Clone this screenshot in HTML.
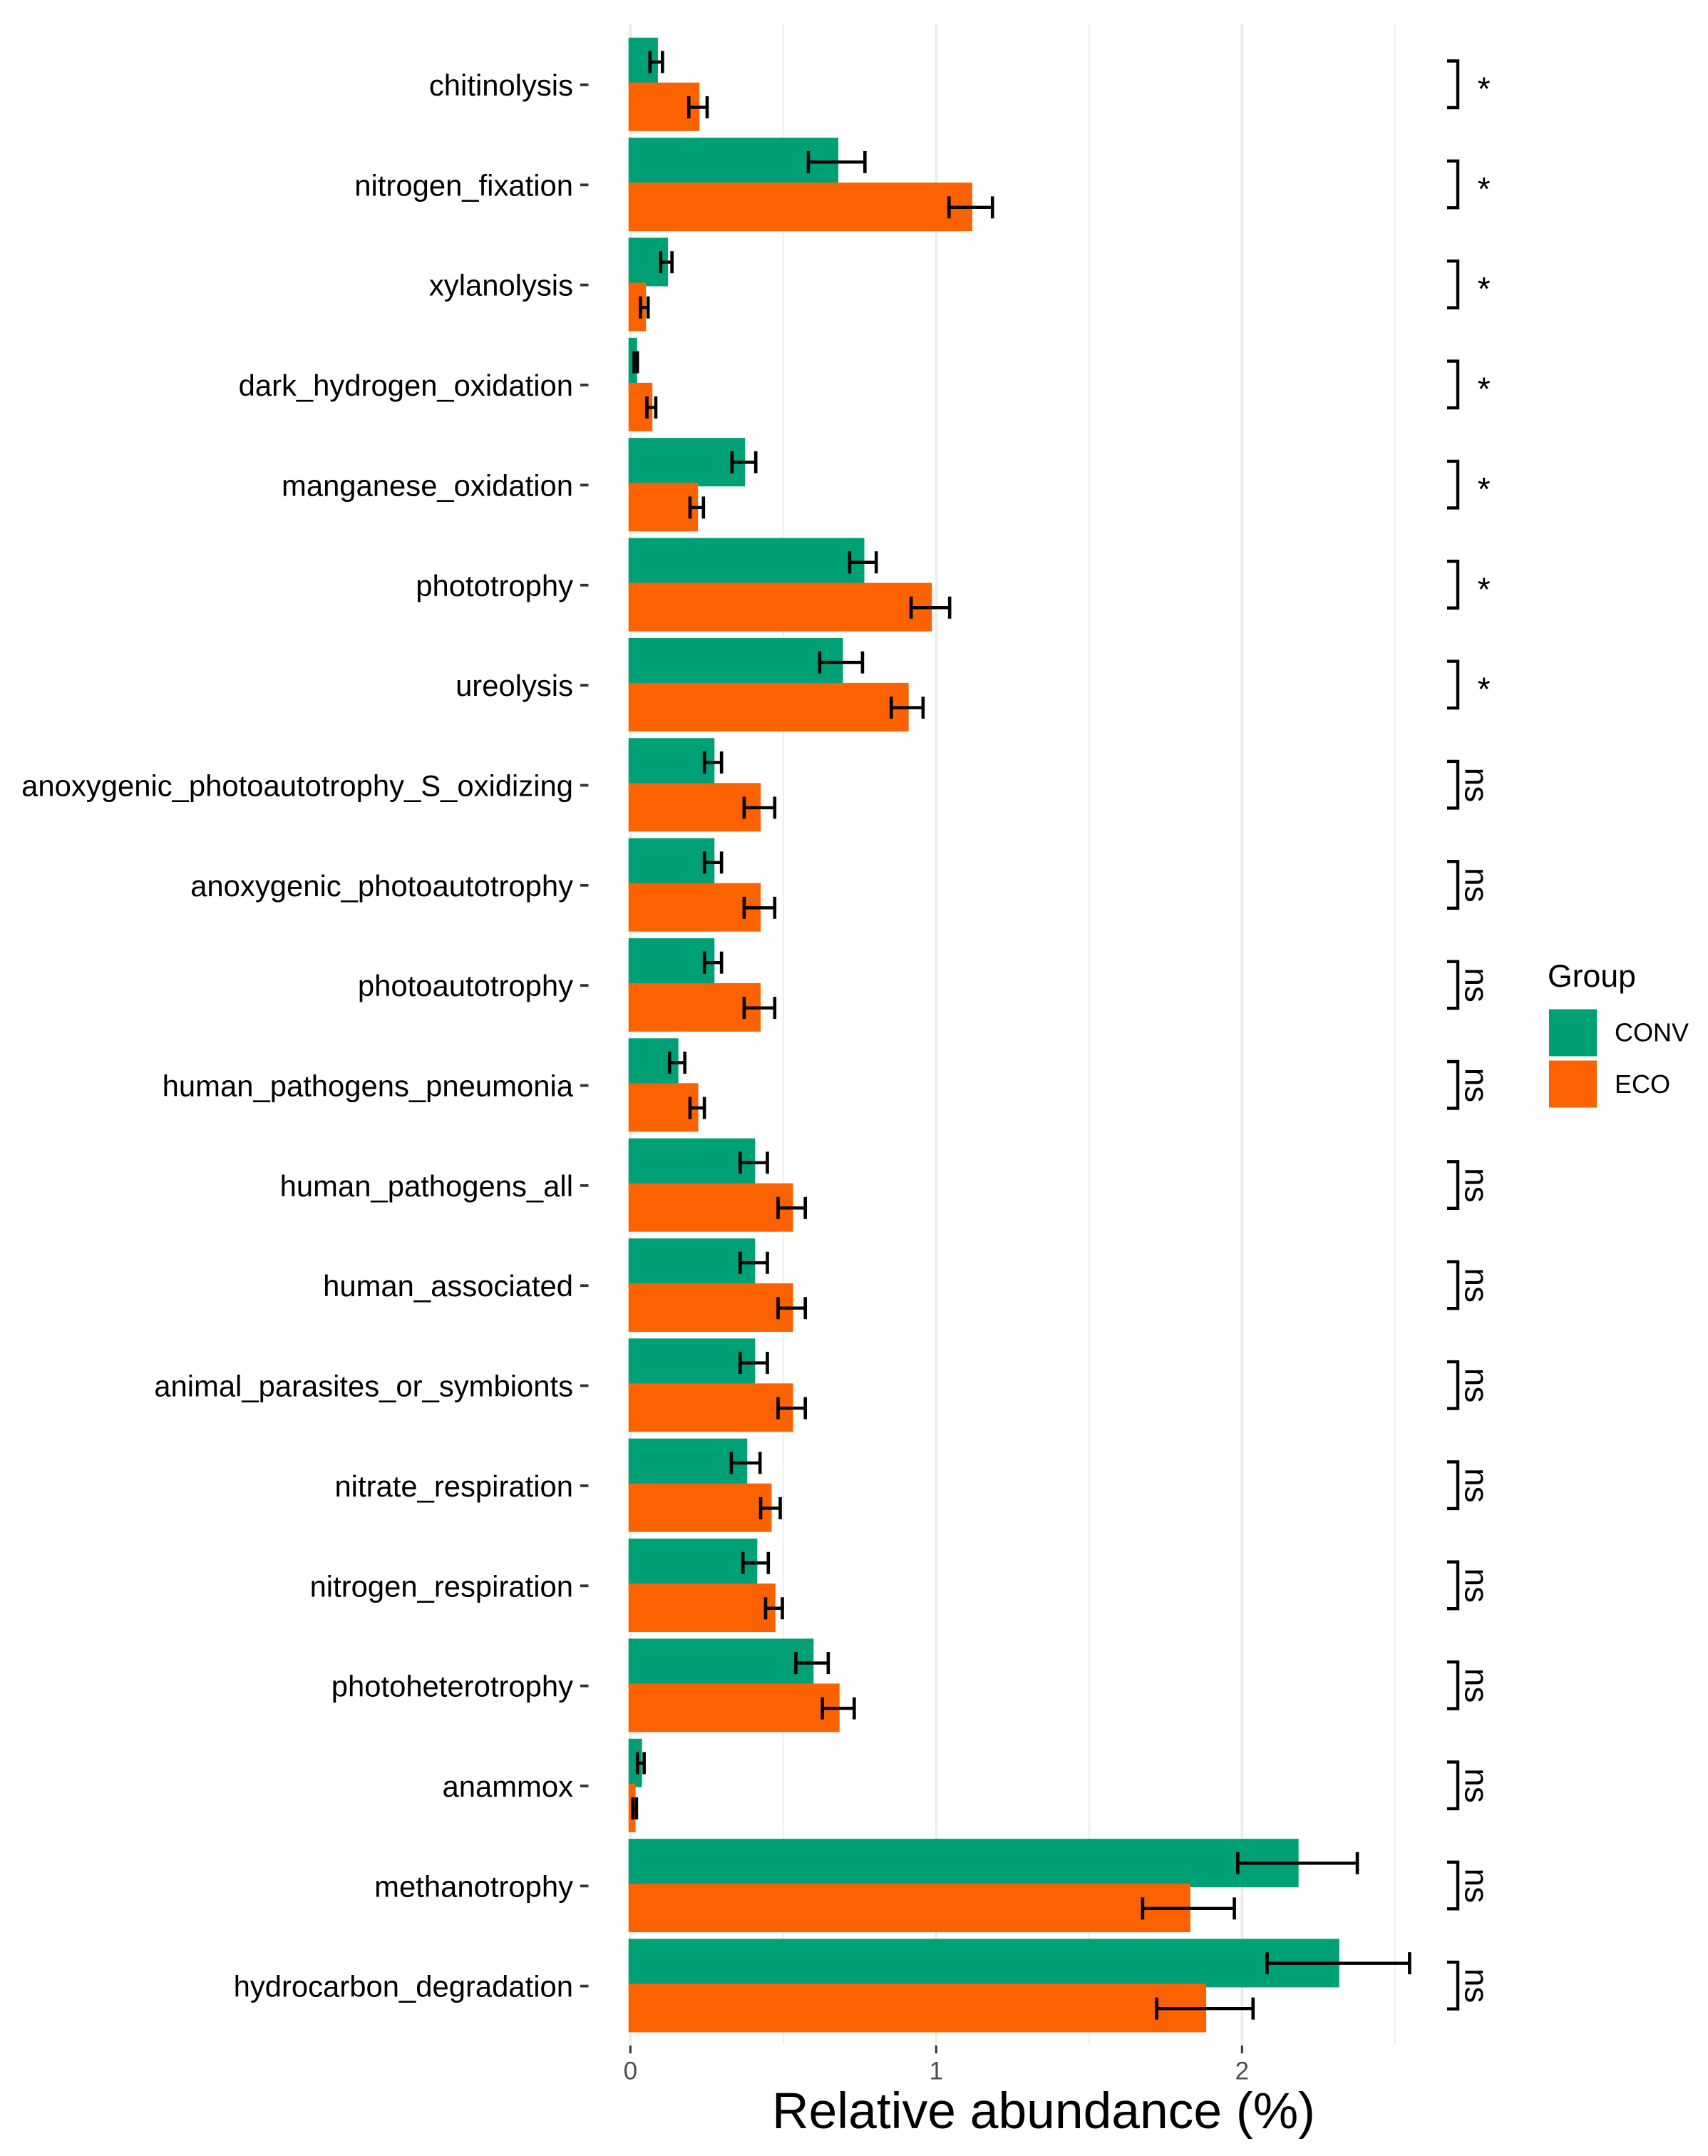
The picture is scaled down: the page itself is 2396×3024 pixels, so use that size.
<!DOCTYPE html>
<html lang="en">
<head>
<meta charset="utf-8">
<title>Relative abundance by function</title>
<style>
html,body{margin:0;padding:0;background:#fff;width:2396px;height:3024px;overflow:hidden}
svg{display:block}
text{font-family:"Liberation Sans",Arial,sans-serif}
</style>
</head>
<body>
<svg id="chart" xmlns="http://www.w3.org/2000/svg" width="2396" height="3024" viewBox="0 0 2396 3024">
  <rect x="0" y="0" width="2396" height="3024" fill="#ffffff"/>
  <g id="grid"></g>
  <g id="bars"></g>
  <g id="errors"></g>
  <g id="yaxis"></g>
  <g id="xaxis"></g>
  <g id="signif"></g>
  <text x="1083" y="2985" font-size="71.4" fill="#000000">Relative abundance (%)</text>
  <g>
    <text x="2171" y="1384" font-size="44.6" fill="#000000">Group</text>
    <rect x="2173" y="1415.5" width="67" height="66" fill="#00A077"/>
    <rect x="2173" y="1487.5" width="67" height="66" fill="#FC6200"/>
    <text x="2265" y="1460.5" font-size="36" fill="#000000">CONV</text>
    <text x="2265" y="1533" font-size="36" fill="#000000">ECO</text>
  </g>
</svg>
<script>
const categories = ["chitinolysis","nitrogen_fixation","xylanolysis","dark_hydrogen_oxidation","manganese_oxidation","phototrophy","ureolysis","anoxygenic_photoautotrophy_S_oxidizing","anoxygenic_photoautotrophy","photoautotrophy","human_pathogens_pneumonia","human_pathogens_all","human_associated","animal_parasites_or_symbionts","nitrate_respiration","nitrogen_respiration","photoheterotrophy","anammox","methanotrophy","hydrocarbon_degradation"];
const convMeans = [0.090,0.680,0.123,0.022,0.375,0.765,0.695,0.275,0.275,0.275,0.157,0.408,0.408,0.408,0.382,0.415,0.599,0.038,2.185,2.318];
const ecoMeans = [0.226,1.118,0.051,0.072,0.221,0.986,0.910,0.426,0.426,0.426,0.222,0.532,0.532,0.532,0.462,0.474,0.684,0.017,1.831,1.883];
const convLow = [0.064,0.582,0.099,0.012,0.332,0.717,0.619,0.242,0.242,0.242,0.128,0.359,0.359,0.359,0.330,0.368,0.541,0.023,1.986,2.082];
const convHigh = [0.105,0.767,0.136,0.023,0.410,0.804,0.759,0.298,0.298,0.298,0.178,0.448,0.448,0.448,0.424,0.451,0.647,0.045,2.377,2.548];
const ecoLow = [0.191,1.042,0.033,0.054,0.195,0.918,0.853,0.372,0.372,0.372,0.195,0.483,0.483,0.483,0.426,0.442,0.628,0.008,1.675,1.721];
const ecoHigh = [0.251,1.184,0.058,0.083,0.239,1.044,0.957,0.472,0.472,0.472,0.242,0.572,0.572,0.572,0.490,0.497,0.732,0.020,1.975,2.036];
const significance = ["*","*","*","*","*","*","*","ns","ns","ns","ns","ns","ns","ns","ns","ns","ns","ns","ns","ns"];
const majorTicks = [0,1,2];
const minorTicks = [0.5,1.5,2.5];

function xScale(v){ return 884.3 + 429 * v; }
function yScale(i){ return 118.5 + 140.35 * i; }
const NS = "http://www.w3.org/2000/svg";
function make(parentId, tag, attrs, text){
  const node = document.createElementNS(NS, tag);
  Object.keys(attrs).forEach(function(k){ node.setAttribute(k, attrs[k]); });
  if (text !== undefined) node.textContent = text;
  document.getElementById(parentId).appendChild(node);
  return node;
}
const barLeft = 881.7;

majorTicks.forEach(function(t){
  const line = make("grid","line",{x1:xScale(t),x2:xScale(t),y1:33,y2:2868,stroke:"#ebebeb","stroke-width":3.6});
  
  
  const tick = make("xaxis","line",{x1:xScale(t),x2:xScale(t),y1:2869,y2:2880,stroke:"#333333","stroke-width":3});
  
  
  const label = make("xaxis","text",{x:xScale(t),y:2916.5,"font-size":35,fill:"#4d4d4d","text-anchor":"middle"},String(t));
  
  
});
minorTicks.forEach(function(t){
  const line = make("grid","line",{x1:xScale(t),x2:xScale(t),y1:33,y2:2868,stroke:"#ebebeb","stroke-width":1.8});
  
  
});

function drawError(low, high, y){
  const whisker = make("errors","line",{x1:xScale(low),x2:xScale(high),y1:y,y2:y,stroke:"#000000","stroke-width":4.4});
  
  
  const capLow = make("errors","line",{x1:xScale(low),x2:xScale(low),y1:y-15.5,y2:y+15.5,stroke:"#000000","stroke-width":4.6});
  
  
  const capHigh = make("errors","line",{x1:xScale(high),x2:xScale(high),y1:y-15.5,y2:y+15.5,stroke:"#000000","stroke-width":4.6});
  
  
}

categories.forEach(function(name,i){
  const c = yScale(i);
  const barConv = make("bars","rect",{x:barLeft,y:c-65.7,width:xScale(convMeans[i])-barLeft,height:68,fill:"#00A077"});
  
  
  const barEco = make("bars","rect",{x:barLeft,y:c-2.7,width:xScale(ecoMeans[i])-barLeft,height:68,fill:"#FC6200"});
  
  
  drawError(convLow[i], convHigh[i], c-31.5);
  drawError(ecoLow[i], ecoHigh[i], c+32);

  const label = make("yaxis","text",{x:804,y:c+15.5,"font-size":41.8,fill:"#000000","text-anchor":"end"},name);
  
  
  const tick = make("yaxis","line",{x1:814,x2:825.5,y1:c+0.5,y2:c+0.5,stroke:"#333333","stroke-width":3.8});
  
  

  const bracket = make("signif","polyline",{points:"2030,"+(c-33)+" 2045,"+(c-33)+" 2045,"+(c+32.5)+" 2030,"+(c+32.5),fill:"none",stroke:"#000000","stroke-width":4.4});
  
  
  let mark;
  if (significance[i] === "*") {
    mark = make("signif","text",{x:2081.7,y:c+22,"font-size":46,fill:"#000000","text-anchor":"middle"},significance[i]);
  } else {
    mark = make("signif","text",{"font-size":46,fill:"#000000","text-anchor":"middle",transform:"translate(2055.7,"+c+") rotate(90)"},significance[i]);
  }
  
  
});
</script>
</body>
</html>
